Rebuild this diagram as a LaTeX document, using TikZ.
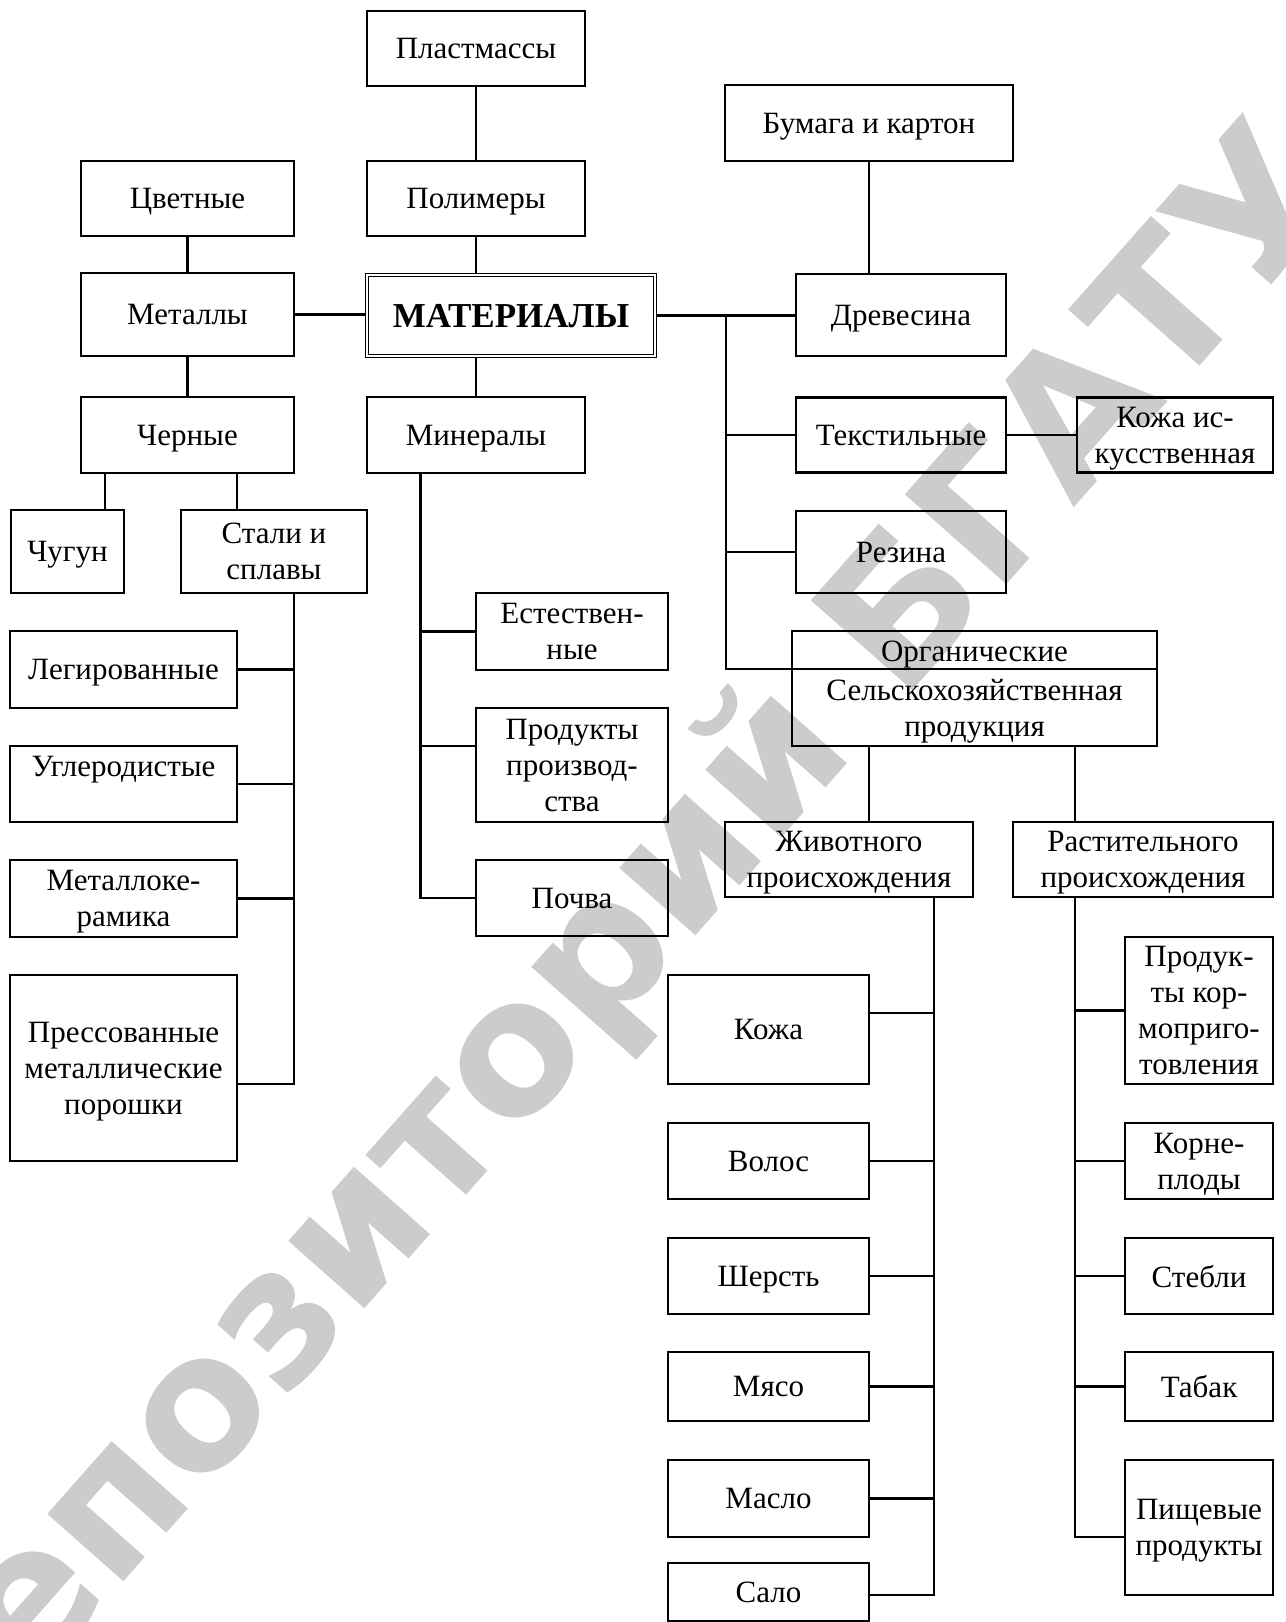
\documentclass[tikz,border=0pt]{standalone}
\usepackage{fontspec}
\setmainfont{Liberation Serif}
\newfontfamily\wmfont{DejaVu Sans}
\begin{document}
\begin{tikzpicture}[x=1pt,y=-1pt,
  bx/.style={draw, line width=2.1pt, inner sep=0pt, align=center, text depth=0pt, font=\fontsize{31}{36}\selectfont},
  txt/.style={inner sep=0pt, align=center, text depth=0pt, font=\fontsize{31}{36}\selectfont},
  wh/.style 2 args={minimum width=#1pt, minimum height=#2pt},
  ln/.style={line width=2.1pt}]
\useasboundingbox (0,0) rectangle (1285,1622);
\fill[white] (0,0) rectangle (1285,1622);
% watermark
\node[rotate=48.5, text=black!20, font=\wmfont\bfseries\fontsize{186}{186}\selectfont, inner sep=0pt] (wm) at (605,960) {Репозиторий БГАТУ};
% left and centre
\node[bx, wh={218}{75}] (plast) at (476,48.5) {Пластмассы};
\node[bx, wh={218}{75}] (polim) at (476,198.5) {Полимеры};
\node[bx, wh={213}{75}] (cvet) at (187.5,198.5) {Цветные};
\node[bx, wh={213}{83}] (metal) at (187.5,314.5) {Металлы};
\node[draw, double, double distance=1.5pt, line width=1.3pt, inner sep=0pt, text depth=0pt, minimum width=288pt, minimum height=81pt, font=\bfseries\fontsize{35}{40}\selectfont] (mat) at (511,315.5) {МАТЕРИАЛЫ};
\node[bx, wh={213}{76}] (chern) at (187.5,435) {Черные};
\node[bx, wh={218}{76}] (miner) at (476,435) {Минералы};
\node[bx, wh={113}{83}] (chug) at (67.5,551.5) {Чугун};
\node[bx, wh={186}{83}] (stali) at (274,551.5) {Стали и\\сплавы};
\node[bx, wh={227}{77}] (leg) at (123.5,669.5) {Легированные};
\node[bx, wh={227}{76}] (ugl) at (123.5,784) {};
\node[txt] (uglt) at (123.5,766) {Углеродистые};
\node[bx, wh={227}{77}] (metk) at (123.5,898.5) {Металлоке-\\рамика};
\node[bx, wh={227}{186}] (press) at (123.5,1068) {Прессованные\\металлические\\порошки};
\node[bx, wh={192}{77}] (est) at (572,631.5) {Естествен-\\ные};
\node[bx, wh={192}{114}] (prod) at (572,765) {Продукты\\производ-\\ства};
\node[bx, wh={192}{76}] (pochva) at (572,898) {Почва};
% right
\node[bx, wh={288}{76}] (bum) at (869,123) {Бумага и картон};
\node[bx, wh={210}{82}] (drev) at (901,315) {Древесина};
\node[bx, wh={210}{75}] (tekst) at (901,435) {Текстильные};
\node[bx, wh={196}{75}] (kisk) at (1175,435) {Кожа ис-\\кусственная};
\node[bx, wh={210}{82}] (rez) at (901,552) {Резина};
\node[bx, wh={365}{115}] (org) at (974.5,688.5) {};
\node[txt] (orgt) at (974.5,651.5) {Органические};
\node[txt] (selt) at (974.5,708) {Сельскохозяйственная\\продукция};
\node[bx, wh={248}{75}] (zhiv) at (849,859.5) {Животного\\происхождения};
\node[bx, wh={260}{75}] (rast) at (1143,859.5) {Растительного\\происхождения};
\node[bx, wh={201}{109}] (kozha) at (768.5,1029.5) {Кожа};
\node[bx, wh={201}{76}] (volos) at (768.5,1161) {Волос};
\node[bx, wh={201}{76}] (sherst) at (768.5,1276) {Шерсть};
\node[bx, wh={201}{69}] (myaso) at (768.5,1386.5) {Мясо};
\node[bx, wh={201}{77}] (maslo) at (768.5,1498.5) {Масло};
\node[bx, wh={201}{58}] (salo) at (768.5,1592) {Сало};
\node[bx, wh={148}{147}] (pkorm) at (1199,1010.5) {Продук-\\ты кор-\\моприго-\\товления};
\node[bx, wh={148}{76}] (korn) at (1199,1161) {Корне-\\плоды};
\node[bx, wh={148}{76}] (stebli) at (1199,1276) {Стебли};
\node[bx, wh={148}{69}] (tabak) at (1199,1386.5) {Табак};
\node[bx, wh={148}{135}] (pisch) at (1199,1527.5) {Пищевые\\продукты};
% connectors left
\draw[ln] (plast) -- (polim);
\draw[ln] (polim.south) -- (polim.south |- mat.north);
\draw[ln] (cvet) -- (metal);
\draw[ln] (metal) -- (chern);
\draw[ln] (metal.east) -- (metal.east -| mat.west);
\draw[ln] (miner.north |- mat.south) -- (miner.north);
\coordinate (cA) at (105,0);
\coordinate (cB) at (237,0);
\draw[ln] (chern.south -| cA) -- (chug.north -| cA);
\draw[ln] (chern.south -| cB) -- (stali.north -| cB);
\coordinate (sT) at (294,1084);
\draw[ln] (stali.south -| sT) -- (sT) -- (press.east |- sT);
\draw[ln] (leg.east) -- (leg.east -| sT);
\draw[ln] (ugl.east) -- (ugl.east -| sT);
\draw[ln] (metk.east) -- (metk.east -| sT);
\coordinate (mT) at (420.5,898);
\draw[ln] (miner.south -| mT) -- (mT) -- (pochva.west);
\draw[ln] (est.west -| mT) -- (est.west);
\coordinate (pc) at (0,746);
\draw[ln] (mT |- pc) -- (prod.west |- pc);
% connectors right
\draw[ln] (mat.east) -- (mat.east -| drev.west);
\draw[ln] (bum.south) -- (bum.south |- drev.north);
\coordinate (tr) at (726,669);
\draw[ln] (tr |- mat.east) -- (tr) -- (org.east |- tr);
\draw[ln] (tekst.west -| tr) -- (tekst.west);
\draw[ln] (rez.west -| tr) -- (rez.west);
\draw[ln] (tekst.east) -- (kisk.west);
\coordinate (oA) at (869,0);
\coordinate (oB) at (1075,0);
\draw[ln] (org.south -| oA) -- (zhiv.north -| oA);
\draw[ln] (org.south -| oB) -- (rast.north -| oB);
\coordinate (zT) at (934,1595);
\draw[ln] (zhiv.south -| zT) -- (zT) -- (salo.east |- zT);
\coordinate (k1) at (0,1013);
\draw[ln] (kozha.east |- k1) -- (zT |- k1);
\draw[ln] (volos.east) -- (volos.east -| zT);
\draw[ln] (sherst.east) -- (sherst.east -| zT);
\draw[ln] (myaso.east) -- (myaso.east -| zT);
\draw[ln] (maslo.east) -- (maslo.east -| zT);
\coordinate (rT) at (1075,1537);
\draw[ln] (rast.south -| rT) -- (rT) -- (pisch.west |- rT);
\draw[ln] (pkorm.west -| rT) -- (pkorm.west);
\draw[ln] (korn.west -| rT) -- (korn.west);
\draw[ln] (stebli.west -| rT) -- (stebli.west);
\draw[ln] (tabak.west -| rT) -- (tabak.west);
\end{tikzpicture}
\end{document}
